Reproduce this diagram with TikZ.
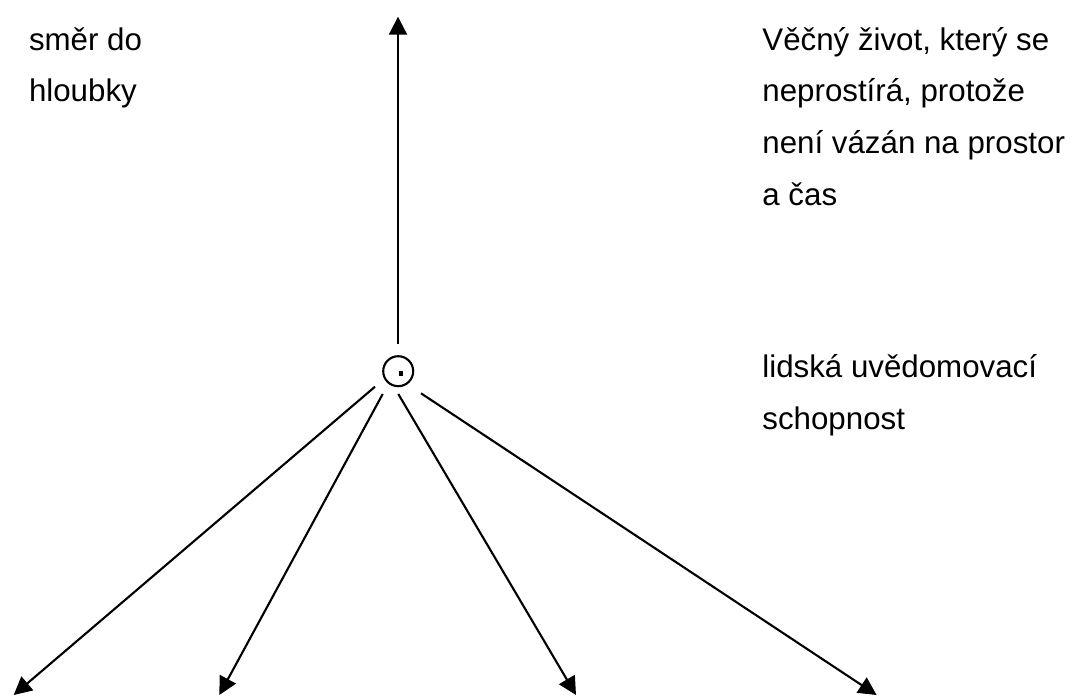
\documentclass[tikz,border=0pt]{standalone}
\usepackage{fontspec}
\setmainfont{Liberation Sans}
\usetikzlibrary{arrows.meta,positioning}
\tikzset{
	ray/.style={
		line width=0.6pt,
		-{Triangle[length=1.8mm,width=1.8mm]}
	},
	centre/.style={
		circle,
		draw=black,
		line width=0.6pt,
		minimum size=3mm,
		inner sep=0pt
	},
	note/.style={
		anchor=base west,
		align=left,
		inner sep=0pt,
		font=\fontsize{8.9}{14.7}\selectfont
	},
}

\begin{document}
\begin{tikzpicture}[x=1cm,y=1cm]
\useasboundingbox (0,0) rectangle (10.74,6.95);
\node[centre] (c) at (3.982,3.238) {};
\fill (c.center) ++(0.0055,-0.0475) rectangle ++(0.045,0.045);
% starts of the rays
\coordinate (s0) at (3.98,3.51);
\coordinate (s1) at (3.75,3.083);
\coordinate (s2) at (3.827,3.01);
\coordinate (s3) at (3.983,3.01);
\coordinate (s4) at (4.21,3.017);
% ends of the rays
\coordinate (up) at (3.98,6.783);
\coordinate (e1) at (0.137,0);
\coordinate (e2) at (2.193,0);
\coordinate (e3) at (5.76,0);
\coordinate (e4) at (8.766,0);
% base anchor = baseline of the last line
\node[note] (depth) at (0.283,5.933) {směr do\\hloubky};
\node[note] (life) at (7.617,4.90) {Věčný život, který se\\neprostírá, protože\\není vázán na prostor\\a čas};
\node[note] (mind) at (7.617,2.66) {lidská uvědomovací\\schopnost};
\path[ray]
(s0) edge (up)
(s1) edge (e1)
(s2) edge (e2)
(s3) edge (e3)
(s4) edge (e4)
;
\end{tikzpicture}
\end{document}
